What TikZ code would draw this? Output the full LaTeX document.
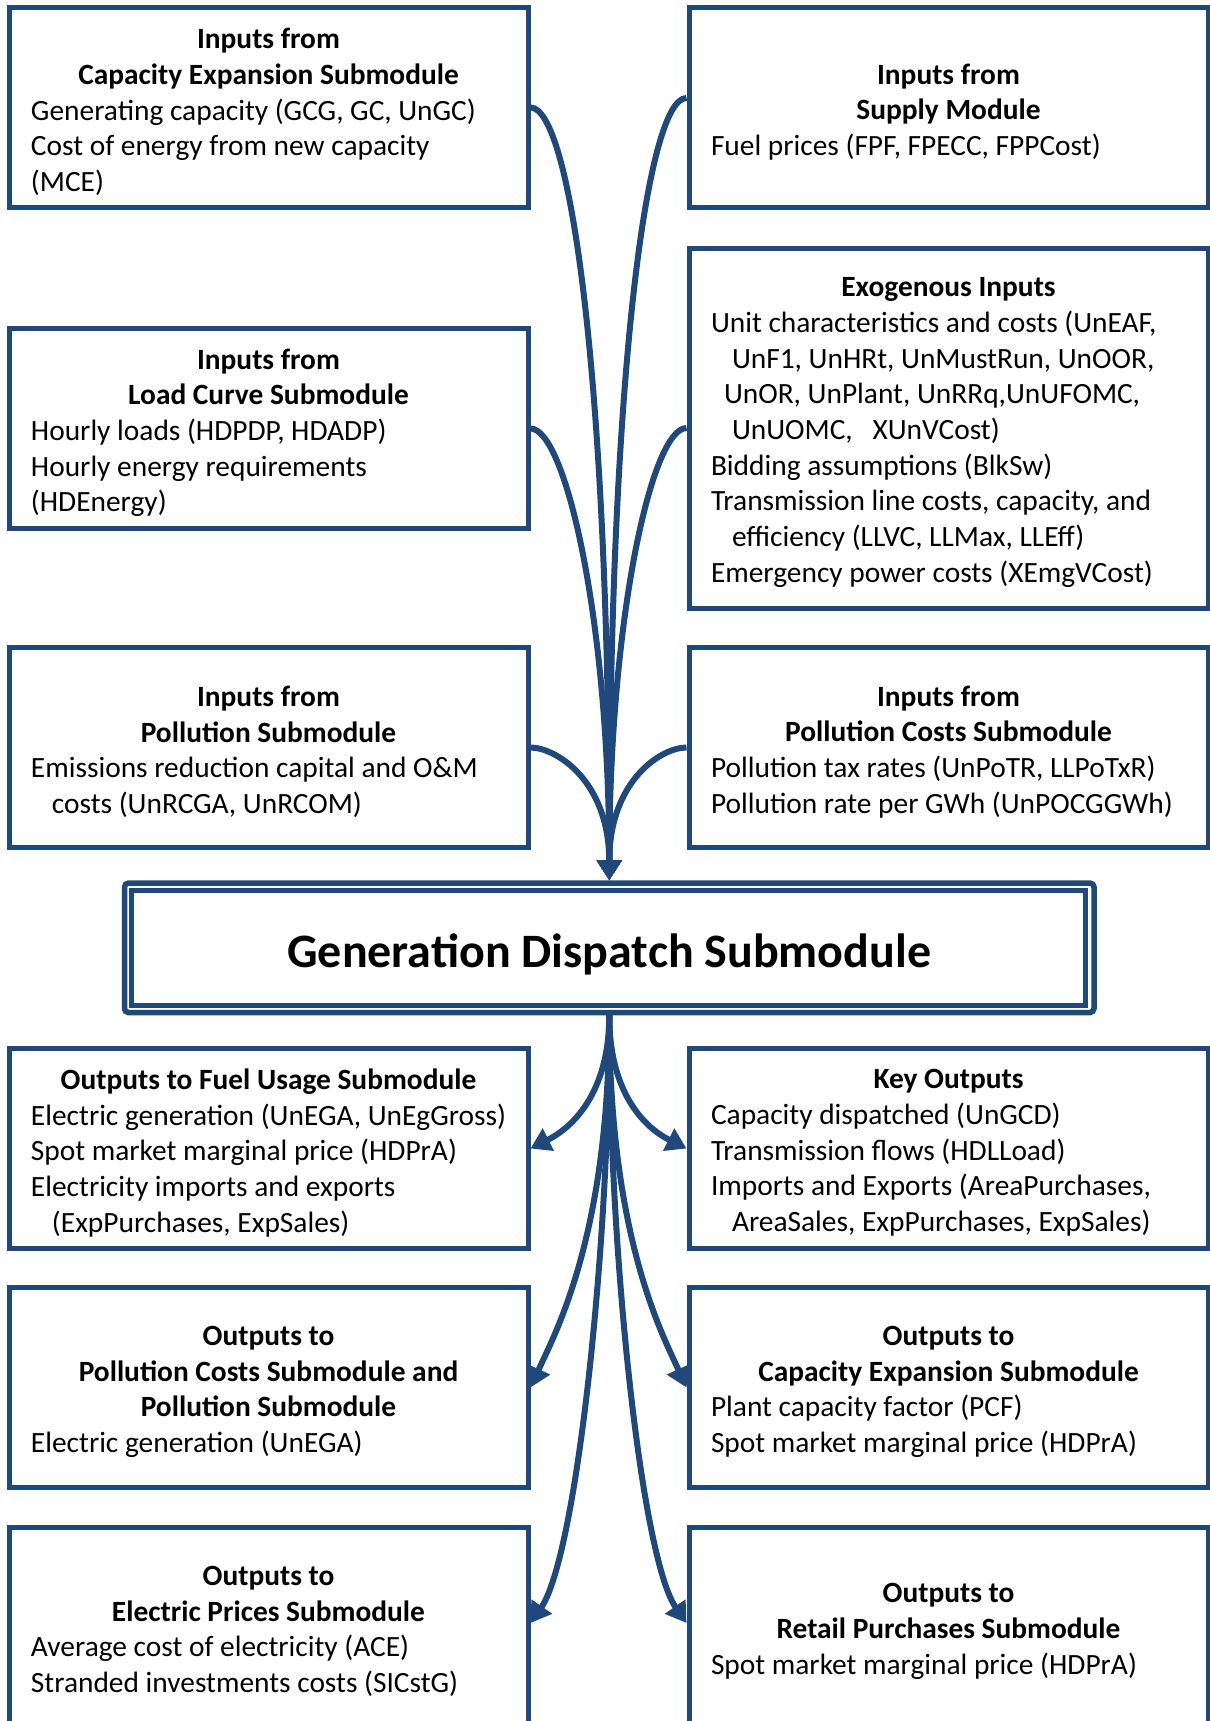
\documentclass[tikz,border=0pt]{standalone}
\usepackage{fontspec}
\setmainfont{Carlito}
\usetikzlibrary{arrows.meta,calc}
\definecolor{dkblue}{RGB}{31,73,125}

% centred bold heading line inside a panel
\newcommand{\hd}[1]{\makebox[\linewidth]{\bfseries #1}}
% one unbreakable text line of a panel
\newcommand{\pl}[1]{\mbox{#1}}
% indentation of a continued line
\newcommand{\ind}[1]{\hspace*{#1}}
% text block of a panel (the top space lowers the block a little)
\newcommand{\paneltext}[1]{\parbox{237.5pt}{\raggedright\hbadness=10000\hfuzz=50pt
  \fontsize{14.7pt}{17.85pt}\selectfont\vspace*{4.4pt}#1}}

\begin{document}
\begin{tikzpicture}[x=0.5pt,y=-0.5pt,
  panel/.style={draw=dkblue, line width=2.5pt, fill=white, inner sep=0pt,
    minimum width=259.5pt, minimum height=100pt},
  mainbox/.style={draw=dkblue, line width=2.75pt, rounded corners=2pt, fill=white,
    inner sep=0pt, minimum width=484.75pt, minimum height=64.75pt},
  arr/.style={draw=dkblue, line width=3pt, -{Triangle[length=10pt,width=12pt]}}]

\clip (0,0) rectangle (1210,1721);

% ---- inputs ----
\node[panel] (capx) at (268.5,107.5) {\paneltext{%
  \hd{Inputs from}\\
  \hd{Capacity Expansion Submodule}\\
  \pl{Generating capacity (GCG, GC, UnGC)}\\
  \pl{Cost of energy from new capacity}\\
  \pl{(MCE)}}};

\node[panel] (sup) at (948.5,107.5) {\paneltext{%
  \hd{Inputs from}\\
  \hd{Supply Module}\\
  \pl{Fuel prices (FPF, FPECC, FPPCost)}}};

\node[panel] (load) at (268.5,428.5) {\paneltext{%
  \hd{Inputs from}\\
  \hd{Load Curve Submodule}\\
  \pl{Hourly loads (HDPDP, HDADP)}\\
  \pl{Hourly energy requirements}\\
  \pl{(HDEnergy)}}};

\node[panel, minimum height=180pt] (exo) at (948.5,428) {\paneltext{%
  \hd{Exogenous Inputs}\\
  \pl{Unit characteristics and costs (UnEAF,}\\
  \ind{10.5pt}\pl{UnF1, UnHRt, UnMustRun, UnOOR,}\\
  \ind{6.5pt}\pl{UnOR, UnPlant, UnRRq,UnUFOMC,}\\
  \ind{10.5pt}\pl{UnUOMC,\ \ \ XUnVCost)}\\
  \pl{Bidding assumptions (BlkSw)}\\
  \pl{Transmission line costs, capacity, and}\\
  \ind{10.5pt}\pl{efficiency (LLVC, LLMax, LLEff)}\\
  \pl{Emergency power costs (XEmgVCost)}}};

\node[panel] (poll) at (268.5,747.5) {\paneltext{%
  \hd{Inputs from}\\
  \hd{Pollution Submodule}\\
  \pl{Emissions reduction capital and O\&M}\\
  \ind{10.5pt}\pl{costs (UnRCGA, UnRCOM)}}};

\node[panel] (pcost) at (948.5,747.5) {\paneltext{%
  \hd{Inputs from}\\
  \hd{Pollution Costs Submodule}\\
  \pl{Pollution tax rates (UnPoTR, LLPoTxR)}\\
  \pl{Pollution rate per GWh (UnPOCGGWh)}}};

% ---- central submodule ----
\node[mainbox] (gd) at (609.25,947.75)
  {\fontsize{24pt}{28pt}\selectfont\bfseries
   \parbox{460pt}{\centering\vspace*{6.6pt}Generation Dispatch Submodule}};
\draw[dkblue, line width=2.5pt]
  ([shift={(5.1pt,-5.1pt)}]gd.north west) rectangle ([shift={(-5.6pt,5.1pt)}]gd.south east);

% ---- outputs ----
\node[panel] (fuel) at (268.5,1148.5) {\paneltext{%
  \hd{Outputs to Fuel Usage Submodule}\\
  \pl{Electric generation (UnEGA, UnEgGross)}\\
  \pl{Spot market marginal price (HDPrA)}\\
  \pl{Electricity imports and exports}\\
  \ind{10.5pt}\pl{(ExpPurchases, ExpSales)}}};

\node[panel] (key) at (948.5,1148.5) {\paneltext{%
  \hd{Key Outputs}\\
  \pl{Capacity dispatched (UnGCD)}\\
  \pl{Transmission flows (HDLLoad)}\\
  \pl{Imports and Exports (AreaPurchases,}\\
  \ind{10.5pt}\pl{AreaSales, ExpPurchases, ExpSales)}}};

\node[panel] (pout) at (268.5,1387.5) {\paneltext{%
  \hd{Outputs to}\\
  \hd{Pollution Costs Submodule and}\\
  \hd{Pollution Submodule}\\
  \pl{Electric generation (UnEGA)}}};

\node[panel] (cexp) at (948.5,1387.5) {\paneltext{%
  \hd{Outputs to}\\
  \hd{Capacity Expansion Submodule}\\
  \pl{Plant capacity factor (PCF)}\\
  \pl{Spot market marginal price (HDPrA)}}};

\node[panel] (eprice) at (268.5,1627) {\paneltext{%
  \hd{Outputs to}\\
  \hd{Electric Prices Submodule}\\
  \pl{Average cost of electricity (ACE)}\\
  \pl{Stranded investments costs (SICstG)}}};

\node[panel] (retail) at (948.5,1627) {\paneltext{%
  \hd{Outputs to}\\
  \hd{Retail Purchases Submodule}\\
  \pl{Spot market marginal price (HDPrA)}}};

% ---- connectors into the submodule ----
\draw[arr] (capx.east) .. controls +(40,0) and +(0,-500) .. (gd.north);
\draw[arr] ([yshift=4.75pt]sup.west) .. controls +(-40,0) and +(0,-500) .. (gd.north);
\draw[arr] (load.east) .. controls +(35,0) and +(0,-260) .. (gd.north);
\draw[arr] (exo.west) .. controls +(-35,0) and +(0,-260) .. (gd.north);
\draw[arr] (poll.east) .. controls +(25,0) and +(0,-100) .. (gd.north);
\draw[arr] (pcost.west) .. controls +(-25,0) and +(0,-100) .. (gd.north);

% ---- connectors out of the submodule ----
\draw[arr] (gd.south) .. controls +(0,80) and +(40,-20) .. (fuel.east);
\draw[arr] (gd.south) .. controls +(0,80) and +(-40,-20) .. (key.west);
\draw[arr] (gd.south) .. controls +(0,220) and +(25,-55) .. (pout.east);
\draw[arr] (gd.south) .. controls +(0,220) and +(-25,-55) .. (cexp.west);
\draw[arr] (gd.south) .. controls +(0,240) and +(45,-65) .. ([yshift=2pt]eprice.east);
\draw[arr] (gd.south) .. controls +(0,240) and +(-45,-65) .. ([yshift=2pt]retail.west);
\end{tikzpicture}
\end{document}
